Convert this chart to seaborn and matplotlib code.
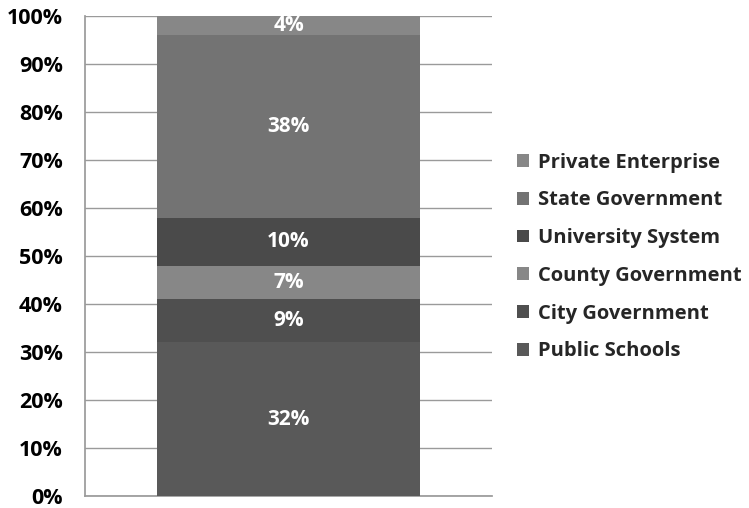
import matplotlib
matplotlib.use("Agg")
import matplotlib.pyplot as plt
import seaborn as sns
import numpy as np
from matplotlib.patches import Patch

sectors = ["Public Schools", "City Government", "County Government",
           "University System", "State Government", "Private Enterprise"]
shares = [32, 9, 7, 10, 38, 4]
colors = ["#595959", "#4f4f4f", "#878787", "#4a4a4a", "#737373", "#878787"]
ytick_labels = ["0%", "10%", "20%", "30%", "40%", "50%", "60%", "70%", "80%", "90%", "100%"]

sns.set_theme(style="white")
plt.rcParams["font.family"] = ["Open Sans", "DejaVu Sans"]
plt.rcParams["font.weight"] = "bold"

fig = plt.figure(figsize=(7.49, 5.08), dpi=100)
ax = fig.add_axes([85 / 749, 12 / 508, 407 / 749, 480 / 508])

bottom = 0
for name, val, col in zip(sectors, shares, colors):
    sns.barplot(x=["All"], y=[val], bottom=bottom, color=col, width=0.644,
                saturation=1, ax=ax, linewidth=0, zorder=3)
    ax.text(0, bottom + val / 2, f"{val}%", ha="center", va="center",
            color="white", fontsize=15, fontweight="bold", zorder=4)
    bottom += val

ax.set_ylim(0, 100)
ax.set_xlim(-0.5, 0.5)
ax.set_yticks(np.arange(0, 101, 10))
ax.set_yticklabels(ytick_labels, fontsize=15.5, fontweight="bold", color="black")
ax.set_xticks([])
ax.set_xlabel("")
ax.set_ylabel("")
ax.yaxis.grid(True, color="#9a9a9a", linewidth=1.0, zorder=0)
ax.set_axisbelow(True)
for side in ["top", "right"]:
    ax.spines[side].set_visible(False)
ax.spines["left"].set_color("#9a9a9a")
ax.spines["bottom"].set_color("#9a9a9a")
ax.tick_params(axis="y", length=0, pad=16)

handles = [Patch(facecolor=c, edgecolor="none") for c in colors[::-1]]
leg = fig.legend(handles, sectors[::-1], loc="center left",
                 bbox_to_anchor=(499 / 749, 1 - 257 / 508), frameon=False,
                 prop={"size": 14.5, "weight": "bold"}, labelspacing=0.88,
                 handlelength=0.6, handleheight=0.6, handletextpad=0.45)

fig.savefig("out.png", dpi=100)
